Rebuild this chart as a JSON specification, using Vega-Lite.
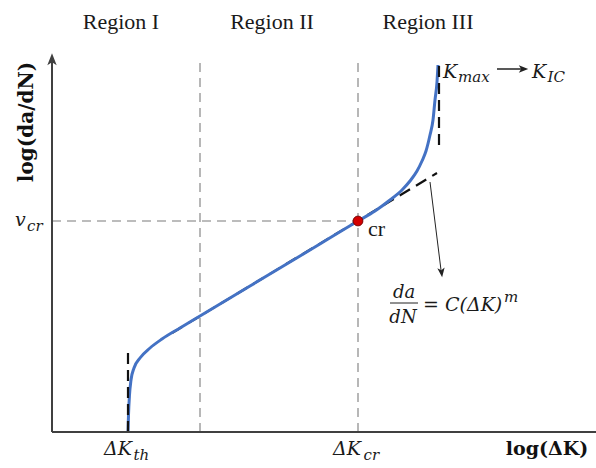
{
  "$schema": "https://vega.github.io/schema/vega-lite/v6.json",
  "width": 596,
  "height": 468,
  "autosize": "none",
  "padding": 0,
  "background": "white",
  "config": {"view": {"stroke": null}},
  "datasets": {
    "curve": [
      {"x": 1.52, "y": 0}, {"x": 1.53, "y": 0.34}, {"x": 1.55, "y": 0.74}, {"x": 1.58, "y": 1.04},
      {"x": 1.64, "y": 1.28}, {"x": 1.76, "y": 1.48}, {"x": 1.96, "y": 1.68}, {"x": 2.2, "y": 1.86},
      {"x": 2.56, "y": 2.08}, {"x": 2.96, "y": 2.32}, {"x": 3.96, "y": 2.92}, {"x": 4.96, "y": 3.52},
      {"x": 6.12, "y": 4.22}, {"x": 6.46, "y": 4.42}, {"x": 6.76, "y": 4.64}, {"x": 7.0, "y": 4.84},
      {"x": 7.16, "y": 5.02}, {"x": 7.3, "y": 5.22}, {"x": 7.4, "y": 5.42}, {"x": 7.48, "y": 5.62},
      {"x": 7.56, "y": 5.94}, {"x": 7.62, "y": 6.24}, {"x": 7.66, "y": 6.64}, {"x": 7.7, "y": 7.0},
      {"x": 7.72, "y": 7.34}
    ],
    "segments": [
      {"kind": "guide", "x": 2.96, "y": 0, "x2": 2.96, "y2": 7.5},
      {"kind": "guide", "x": 6.12, "y": 0, "x2": 6.12, "y2": 7.5},
      {"kind": "guide", "x": 0, "y": 4.22, "x2": 6.12, "y2": 4.22},
      {"kind": "tangent", "x": 2.4, "y": 1.98, "x2": 7.7, "y2": 5.18},
      {"kind": "limit", "x": 1.52, "y": 0, "x2": 1.52, "y2": 1.58},
      {"kind": "limit", "x": 7.74, "y": 5.74, "x2": 7.74, "y2": 7.34},
      {"kind": "axis", "x": 0, "y": 0, "x2": 10.88, "y2": 0},
      {"kind": "axis", "x": 0, "y": 0, "x2": 0, "y2": 7.46},
      {"kind": "thin", "x": 7.56, "y": 5.0, "x2": 7.78, "y2": 3.24},
      {"kind": "thin", "x": 6.76, "y": 2.58, "x2": 7.32, "y2": 2.58},
      {"kind": "karrow", "x": 8.9, "y": 7.26, "x2": 9.4, "y2": 7.26}
    ],
    "heads": [
      {"kind": "up", "x": 0, "y": 7.44},
      {"kind": "pointer", "x": 7.79, "y": 3.2},
      {"kind": "right", "x": 9.42, "y": 7.26}
    ],
    "points": [{"name": "cr", "x": 6.12, "y": 4.22}],
    "texts": [
      {"role": "region", "text": "Region I", "x": 1.38, "y": 8.06},
      {"role": "region", "text": "Region II", "x": 4.4, "y": 8.06},
      {"role": "region", "text": "Region III", "x": 7.52, "y": 8.06},
      {"role": "note", "text": "cr", "x": 6.32, "y": 3.92},
      {"role": "math", "text": "ΔK", "x": 1.04, "y": -0.46},
      {"role": "math", "text": "ΔK", "x": 5.62, "y": -0.46},
      {"role": "math", "text": "K", "x": 7.82, "y": 7.08},
      {"role": "math", "text": "K", "x": 9.6, "y": 7.08},
      {"role": "math", "text": "v", "x": -0.74, "y": 4.12},
      {"role": "math", "text": "= C(ΔK)", "x": 7.42, "y": 2.42},
      {"role": "sub", "text": "th", "x": 1.63, "y": -0.56},
      {"role": "sub", "text": "cr", "x": 6.23, "y": -0.56},
      {"role": "sub", "text": "max", "x": 8.12, "y": 7.0},
      {"role": "sub", "text": "IC", "x": 9.91, "y": 7.0},
      {"role": "sub", "text": "cr", "x": -0.5, "y": 4.02},
      {"role": "sub", "text": "m", "x": 9.04, "y": 2.6},
      {"role": "frac", "text": "da", "x": 7.04, "y": 2.68},
      {"role": "frac", "text": "dN", "x": 7.02, "y": 2.18},
      {"role": "boldx", "text": "log(ΔK)", "x": 9.9, "y": -0.46},
      {"role": "boldy", "text": "log(da/dN)", "x": -0.5, "y": 6.2}
    ]
  },
  "encoding": {
    "x": {"field": "x", "type": "quantitative", "scale": {"domain": [-1.04, 10.88], "nice": false, "zero": false}, "axis": null},
    "y": {"field": "y", "type": "quantitative", "scale": {"domain": [-0.72, 8.64], "nice": false, "zero": false}, "axis": null}
  },
  "layer": [
    {
      "data": {"name": "segments"},
      "transform": [{"filter": "datum.kind == 'guide'"}],
      "mark": {"type": "rule", "color": "#a6a6a6", "strokeWidth": 1.6, "strokeDash": [9, 6]},
      "encoding": {"x2": {"field": "x2"}, "y2": {"field": "y2"}}
    },
    {
      "data": {"name": "segments"},
      "transform": [{"filter": "datum.kind == 'tangent'"}],
      "mark": {"type": "rule", "color": "#111111", "strokeWidth": 2.2, "strokeDash": [12, 7]},
      "encoding": {"x2": {"field": "x2"}, "y2": {"field": "y2"}}
    },
    {
      "data": {"name": "curve"},
      "mark": {"type": "line", "color": "#4472C4", "strokeWidth": 3, "interpolate": "monotone"},
      "encoding": {}
    },
    {
      "data": {"name": "segments"},
      "transform": [{"filter": "datum.kind == 'limit'"}],
      "mark": {"type": "rule", "color": "#111111", "strokeWidth": 2.2, "strokeDash": [11, 6]},
      "encoding": {"x2": {"field": "x2"}, "y2": {"field": "y2"}}
    },
    {
      "data": {"name": "segments"},
      "transform": [{"filter": "datum.kind == 'axis'"}],
      "mark": {"type": "rule", "color": "#404040", "strokeWidth": 2},
      "encoding": {"x2": {"field": "x2"}, "y2": {"field": "y2"}}
    },
    {
      "data": {"name": "segments"},
      "transform": [{"filter": "datum.kind == 'thin'"}],
      "mark": {"type": "rule", "color": "#222222", "strokeWidth": 1},
      "encoding": {"x2": {"field": "x2"}, "y2": {"field": "y2"}}
    },
    {
      "data": {"name": "segments"},
      "transform": [{"filter": "datum.kind == 'karrow'"}],
      "mark": {"type": "rule", "color": "#222222", "strokeWidth": 1.5},
      "encoding": {"x2": {"field": "x2"}, "y2": {"field": "y2"}}
    },
    {
      "data": {"name": "heads"},
      "transform": [{"filter": "datum.kind == 'up'"}],
      "mark": {"type": "point", "shape": "M0,-1 L0.7,0.8 L0,0.35 L-0.7,0.8 Z", "filled": true, "color": "#404040", "size": 180, "opacity": 1}
    },
    {
      "data": {"name": "heads"},
      "transform": [{"filter": "datum.kind == 'pointer'"}],
      "mark": {"type": "point", "shape": "M0,-1 L0.7,0.8 L0,0.35 L-0.7,0.8 Z", "filled": true, "color": "#222222", "size": 110, "angle": 173, "opacity": 1}
    },
    {
      "data": {"name": "heads"},
      "transform": [{"filter": "datum.kind == 'right'"}],
      "mark": {"type": "point", "shape": "M0,-1 L0.7,0.8 L0,0.35 L-0.7,0.8 Z", "filled": true, "color": "#222222", "size": 110, "angle": 90, "opacity": 1}
    },
    {
      "data": {"name": "points"},
      "mark": {"type": "point", "shape": "circle", "filled": true, "color": "#d40000", "stroke": "#7a0000", "strokeWidth": 1, "size": 95, "opacity": 1}
    },
    {
      "data": {"name": "texts"},
      "transform": [{"filter": "datum.role == 'region'"}],
      "mark": {"type": "text", "font": "Liberation Serif", "fontSize": 22, "align": "center", "baseline": "alphabetic", "color": "#1a1a1a"},
      "encoding": {"text": {"field": "text"}}
    },
    {
      "data": {"name": "texts"},
      "transform": [{"filter": "datum.role == 'note'"}],
      "mark": {"type": "text", "font": "Liberation Serif", "fontSize": 22, "align": "left", "baseline": "alphabetic", "color": "#1a1a1a"},
      "encoding": {"text": {"field": "text"}}
    },
    {
      "data": {"name": "texts"},
      "transform": [{"filter": "datum.role == 'math'"}],
      "mark": {"type": "text", "font": "DejaVu Serif", "fontSize": 19, "fontStyle": "italic", "align": "left", "baseline": "alphabetic", "color": "#1a1a1a"},
      "encoding": {"text": {"field": "text"}}
    },
    {
      "data": {"name": "texts"},
      "transform": [{"filter": "datum.role == 'sub'"}],
      "mark": {"type": "text", "font": "DejaVu Serif", "fontSize": 15, "fontStyle": "italic", "align": "left", "baseline": "alphabetic", "color": "#1a1a1a"},
      "encoding": {"text": {"field": "text"}}
    },
    {
      "data": {"name": "texts"},
      "transform": [{"filter": "datum.role == 'frac'"}],
      "mark": {"type": "text", "font": "DejaVu Serif", "fontSize": 18, "fontStyle": "italic", "align": "center", "baseline": "alphabetic", "color": "#1a1a1a"},
      "encoding": {"text": {"field": "text"}}
    },
    {
      "data": {"name": "texts"},
      "transform": [{"filter": "datum.role == 'boldx'"}],
      "mark": {"type": "text", "font": "DejaVu Serif", "fontSize": 19, "fontWeight": "bold", "align": "center", "baseline": "alphabetic", "color": "#111111"},
      "encoding": {"text": {"field": "text"}}
    },
    {
      "data": {"name": "texts"},
      "transform": [{"filter": "datum.role == 'boldy'"}],
      "mark": {"type": "text", "font": "DejaVu Serif", "fontSize": 20, "fontWeight": "bold", "align": "center", "baseline": "middle", "angle": -90, "color": "#111111"},
      "encoding": {"text": {"field": "text"}}
    }
  ]
}
